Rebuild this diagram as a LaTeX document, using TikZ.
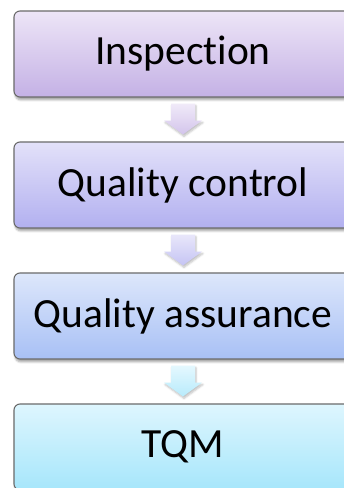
\documentclass[tikz,border=0pt]{standalone}
\usepackage{fontspec}
\setmainfont[Ligatures={NoCommon,NoRare}]{Carlito}
\usetikzlibrary{calc,shadows.blur}
\definecolor{inspTop}{RGB}{237,229,247}
\definecolor{inspBot}{RGB}{196,177,229}
\definecolor{qcTop}{RGB}{227,225,249}
\definecolor{qcBot}{RGB}{178,176,240}
\definecolor{qaTop}{RGB}{221,231,251}
\definecolor{qaBot}{RGB}{168,192,245}
\definecolor{tqmTop}{RGB}{222,246,254}
\definecolor{tqmBot}{RGB}{166,230,251}
\tikzset{
	stage/.style={draw=black!58, line width=1.1pt, rounded corners=6pt,
		minimum width=338pt, minimum height=86pt, inner sep=0pt,
		font=\fontsize{41.5}{48}\selectfont,
		blur shadow={shadow xshift=1pt, shadow yshift=-3pt, shadow blur steps=6, shadow opacity=35}},
	flow/.style={blur shadow={shadow xshift=1pt, shadow yshift=-2pt, shadow blur steps=5, shadow opacity=25}}
}
\def\flowarrow(#1)(#2)[#3]{\path[flow,#3] ($(#1.south)+(-12,-6)$) -- ($(#1.south)+(-12,-23)$) -- ($(#1.south)+(-19,-23)$) -- ($(#2.north)+(0,7)$) -- ($(#1.south)+(19,-23)$) -- ($(#1.south)+(12,-23)$) -- ($(#1.south)+(12,-6)$) -- cycle;}

\begin{document}
\begin{tikzpicture}[x=1pt, y=1pt]
		%%%%% START %%%%%
		
		\useasboundingbox (0, 0) rectangle (344, 488);
		\clip (0, 0) rectangle (344, 488);
		
		\node[stage, top color=inspTop, bottom color=inspBot] (insp) at (183, 434) {Inspection};
		\node[stage, top color=qcTop, bottom color=qcBot] (qc) at (183, 303) {Quality control};
		\node[stage, top color=qaTop, bottom color=qaBot] (qa) at (183, 172) {Quality assurance};
		\node[stage, top color=tqmTop, bottom color=tqmBot] (tqm) at (183, 41) {TQM};
		
		\flowarrow(insp)(qc)[top color=inspTop!80!white, bottom color=inspBot!75!white];
		\flowarrow(qc)(qa)[top color=qcTop!80!white, bottom color=qcBot!75!white];
		\flowarrow(qa)(tqm)[top color=tqmTop!80!white, bottom color=tqmBot!80!white];
		
		%%%%% END %%%%%
	\end{tikzpicture}
\end{document}
